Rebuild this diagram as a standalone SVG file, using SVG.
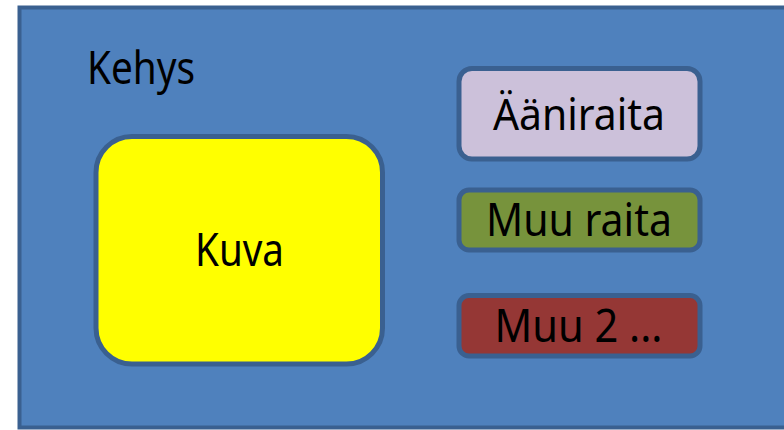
<svg xmlns="http://www.w3.org/2000/svg" width="784" height="430" viewBox="0 0 784 430">
<style>
.lbl{font-family:"Noto Sans","Open Sans",sans-serif;fill:#000;text-anchor:middle}
.bx{stroke:#3A6090;stroke-width:5}
</style>
<rect x="0" y="0" width="784" height="430" fill="#fff"/>
<g id="kehys">
<rect x="19.5" y="7.5" width="800" height="420" fill="#4F81BD" stroke="#3A6090" stroke-width="4"/>
<text class="lbl" x="141" y="84" font-size="46" textLength="108" lengthAdjust="spacingAndGlyphs">Kehys</text>
</g>
<g id="kuva">
<rect class="bx" x="96" y="136.5" width="286.5" height="227.5" rx="36" fill="#FFFF00"/>
<text class="lbl" x="239.5" y="266" font-size="46" textLength="89" lengthAdjust="spacingAndGlyphs">Kuva</text>
</g>
<g id="aaniraita">
<rect class="bx" x="459" y="68.5" width="241" height="90.5" rx="13" fill="#CCC1DA"/>
<text class="lbl" x="579" y="130" font-size="44" textLength="172" lengthAdjust="spacingAndGlyphs">Ääniraita</text>
</g>
<g id="muuraita">
<rect class="bx" x="459" y="190" width="241" height="60" rx="10" fill="#77933C"/>
<text class="lbl" x="579" y="235.5" font-size="46" textLength="186" lengthAdjust="spacingAndGlyphs">Muu raita</text>
</g>
<g id="muu2">
<rect class="bx" x="459" y="295.5" width="241" height="60.5" rx="10" fill="#953735"/>
<text class="lbl" x="578.5" y="341.5" font-size="46" textLength="168" lengthAdjust="spacingAndGlyphs">Muu 2 ...</text>
</g>
<g id="connectors"/>
</svg>
